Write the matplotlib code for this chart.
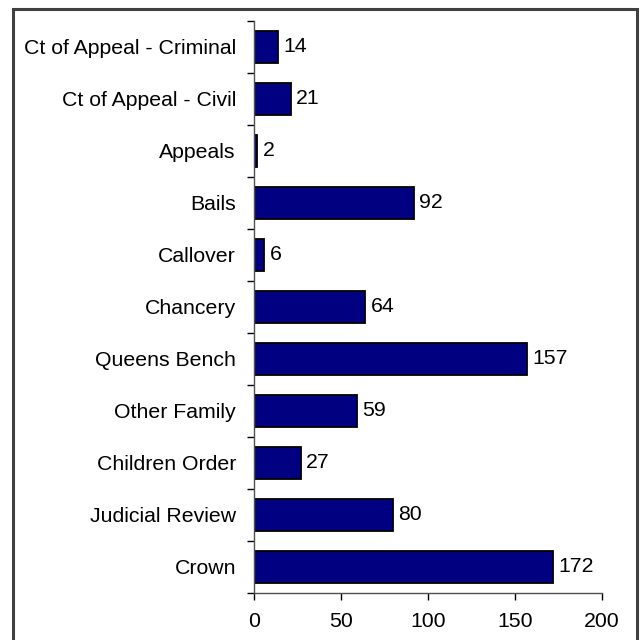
import matplotlib
matplotlib.use("Agg")
import matplotlib.pyplot as plt
from matplotlib.patches import Rectangle
import numpy as np

categories = ["Ct of Appeal - Criminal", "Ct of Appeal - Civil", "Appeals", "Bails",
              "Callover", "Chancery", "Queens Bench", "Other Family",
              "Children Order", "Judicial Review", "Crown"]
values = [14, 21, 2, 92, 6, 64, 157, 59, 27, 80, 172]
xticks = [0, 50, 100, 150, 200]

plt.rcParams['font.family'] = ['Liberation Sans', 'DejaVu Sans']

fig = plt.figure(figsize=(6.41, 6.40), dpi=100)
ax = fig.add_axes([254/641, 1-593/640, (602-254)/641, (593-21)/640])

n = len(categories)
y = np.arange(n)[::-1]
ax.barh(y, values, height=0.63, color="#000080", edgecolor="black", linewidth=1.3)
for yi, v in zip(y, values):
    ax.text(v + 3.0, yi, str(v), va="center", ha="left", fontsize=15.3)

ax.set_xlim(0, 200)
ax.set_ylim(-0.5, n - 0.5)
ax.set_xticks(xticks)
ax.set_xticklabels([str(t) for t in xticks], fontsize=15.3)
ax.set_yticks(y)
ax.set_yticklabels(categories, fontsize=15.3)
ax.tick_params(axis="y", which="major", length=0, pad=13)
ax.set_yticks(np.arange(-0.5, n, 1.0), minor=True)
ax.tick_params(axis="y", which="minor", length=5, width=1, color="black", direction="out")
ax.tick_params(axis="x", which="major", length=5, width=1, color="black", direction="out", pad=9)

for s in ["top", "right"]:
    ax.spines[s].set_visible(False)
for s in ["left", "bottom"]:
    ax.spines[s].set_color("#505050")
    ax.spines[s].set_linewidth(1)

fig.patches.append(Rectangle((13/641, -0.01), (637-13)/641, 1 - 9/640 + 0.01,
                             transform=fig.transFigure, fill=False,
                             edgecolor="#404040", linewidth=2.2))

fig.savefig("out.png", dpi=100)
